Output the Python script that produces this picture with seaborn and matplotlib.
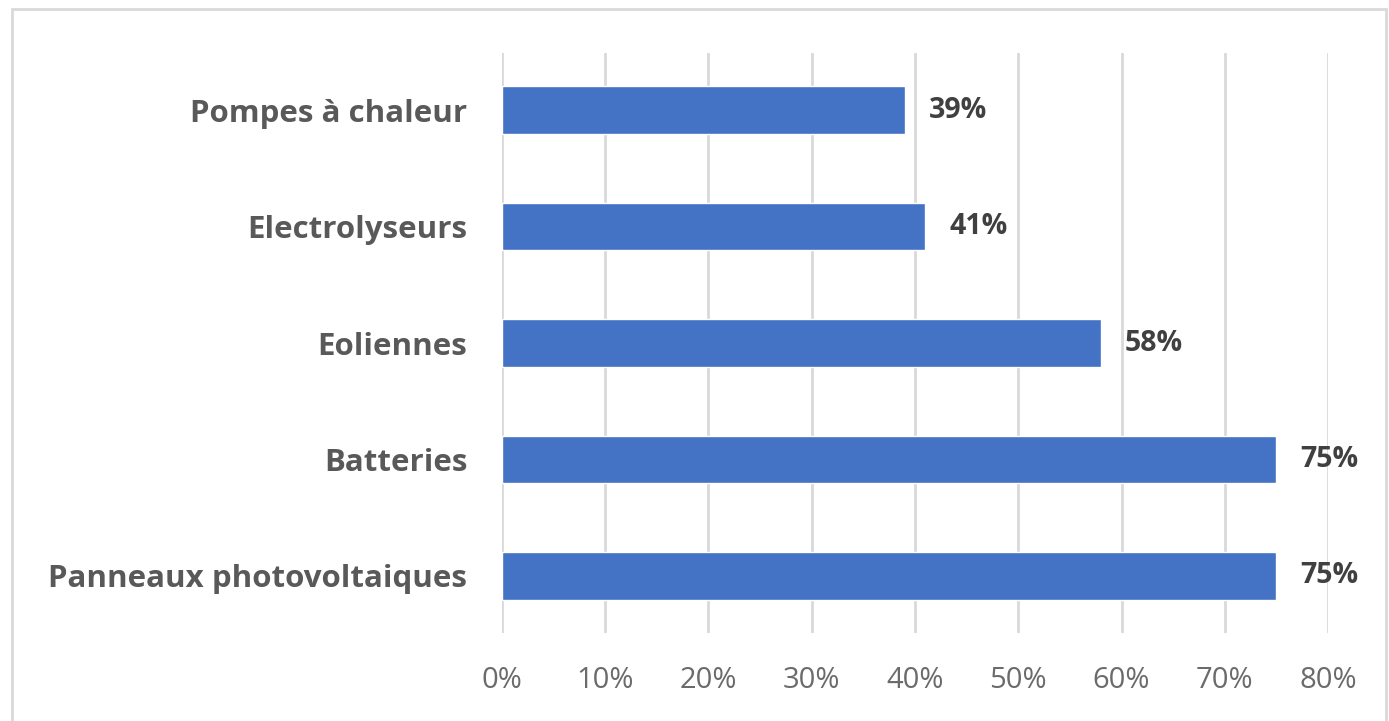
import matplotlib
matplotlib.use("Agg")
import matplotlib.pyplot as plt
import seaborn as sns
import pandas as pd
from matplotlib.patches import Rectangle
from matplotlib.ticker import PercentFormatter

# values
categories = ["Pompes à chaleur", "Electrolyseurs", "Eoliennes", "Batteries", "Panneaux photovoltaiques"]
shares = [39, 41, 58, 75, 75]
xticks = [0, 10, 20, 30, 40, 50, 60, 70, 80]

data = pd.DataFrame({"category": categories, "share": shares})

sns.set_style("white")
plt.rcParams["font.family"] = ["Open Sans", "DejaVu Sans"]

fig = plt.figure(figsize=(13.89, 7.21), dpi=100)
ax = fig.add_axes([0.3614, 0.122, 0.5947, 0.8045])

sns.barplot(data=data, x="share", y="category", orient="h", color="#4472C4",
            saturation=1, width=0.41, ax=ax, zorder=3)

# vertical grid lines, no spines
ax.set_xlim(0, 80)
ax.set_xticks(xticks)
ax.xaxis.set_major_formatter(PercentFormatter(decimals=0))
ax.grid(axis="x", color="#d9d9d9", linewidth=2, zorder=0)
ax.set_axisbelow(True)
sns.despine(ax=ax, left=True, bottom=True)
ax.tick_params(axis="both", length=0)
ax.tick_params(axis="x", labelsize=21, labelcolor="#6b6b6b", pad=24)
ax.tick_params(axis="y", labelsize=22.5, labelcolor="#595959", pad=25)
for t in ax.get_yticklabels():
    t.set_fontweight("bold")
ax.set_xlabel("")
ax.set_ylabel("")
ax.set_ylim(4.49, -0.49)

# value labels
for i, v in enumerate(shares):
    ax.text(v + 2.3, i, f"{v}%", va="center", ha="left", fontsize=20.5,
            fontweight="bold", color="#404040")

# chart border
fig.patches.append(Rectangle((12 / 1389, -0.01), 1374 / 1389, 1 - 9 / 721 + 0.01,
                             transform=fig.transFigure, fill=False,
                             edgecolor="#d9d9d9", linewidth=2))

fig.savefig("out.png", dpi=100)
